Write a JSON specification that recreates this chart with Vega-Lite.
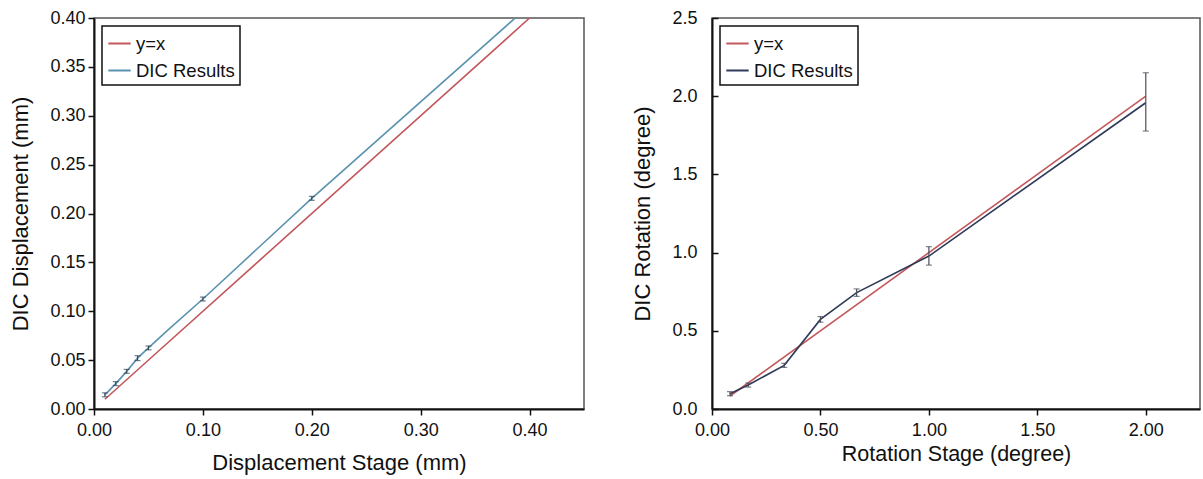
{
  "$schema": "https://vega.github.io/schema/vega-lite/v6.json",
  "background": "white",
  "padding": {"left": 9, "top": 8, "right": 2, "bottom": 2},
  "spacing": 46,
  "datasets": {
    "leftLines": [
      {"stage": 0.01, "value": 0.01, "series": "y=x"},
      {"stage": 0.067, "value": 0.067, "series": "y=x"},
      {"stage": 0.40, "value": 0.40, "series": "y=x"},
      {"stage": 0.01, "value": 0.0145, "series": "DIC Results"},
      {"stage": 0.02, "value": 0.026, "series": "DIC Results"},
      {"stage": 0.03, "value": 0.0385, "series": "DIC Results"},
      {"stage": 0.04, "value": 0.052, "series": "DIC Results"},
      {"stage": 0.05, "value": 0.0625, "series": "DIC Results"},
      {"stage": 0.067, "value": 0.08, "series": "DIC Results"},
      {"stage": 0.10, "value": 0.1125, "series": "DIC Results"},
      {"stage": 0.20, "value": 0.2155, "series": "DIC Results"},
      {"stage": 0.40, "value": 0.413, "series": "DIC Results"}
    ],
    "leftErr": [
      {"stage": 0.01, "lo": 0.0125, "hi": 0.0165},
      {"stage": 0.02, "lo": 0.024, "hi": 0.028},
      {"stage": 0.03, "lo": 0.0365, "hi": 0.0405},
      {"stage": 0.04, "lo": 0.0495, "hi": 0.0545},
      {"stage": 0.05, "lo": 0.0605, "hi": 0.0645},
      {"stage": 0.10, "lo": 0.1105, "hi": 0.1145},
      {"stage": 0.20, "lo": 0.2135, "hi": 0.2175}
    ],
    "rightLines": [
      {"stage": 0.083, "value": 0.083, "series": "y=x"},
      {"stage": 2.0, "value": 2.0, "series": "y=x"},
      {"stage": 0.083, "value": 0.098, "series": "DIC Results"},
      {"stage": 0.167, "value": 0.153, "series": "DIC Results"},
      {"stage": 0.333, "value": 0.279, "series": "DIC Results"},
      {"stage": 0.5, "value": 0.573, "series": "DIC Results"},
      {"stage": 0.667, "value": 0.744, "series": "DIC Results"},
      {"stage": 1.0, "value": 0.978, "series": "DIC Results"},
      {"stage": 2.0, "value": 1.958, "series": "DIC Results"}
    ],
    "rightErr": [
      {"stage": 0.083, "lo": 0.085, "hi": 0.111},
      {"stage": 0.167, "lo": 0.14, "hi": 0.166},
      {"stage": 0.333, "lo": 0.266, "hi": 0.292},
      {"stage": 0.5, "lo": 0.555, "hi": 0.591},
      {"stage": 0.667, "lo": 0.72, "hi": 0.768},
      {"stage": 1.0, "lo": 0.92, "hi": 1.038},
      {"stage": 2.0, "lo": 1.777, "hi": 2.15}
    ]
  },
  "hconcat": [
    {
      "width": 490,
      "height": 391,
      "layer": [
        {
          "data": {"name": "leftLines"},
          "mark": {"type": "line", "strokeWidth": 1.6, "clip": true},
          "encoding": {
            "x": {"field": "stage", "type": "quantitative",
              "scale": {"domain": [0, 0.45], "nice": false, "padding": 0},
              "axis": {"values": [0, 0.1, 0.2, 0.3, 0.4], "format": ".2f", "title": "Displacement Stage (mm)", "titleFontSize": 22, "titlePadding": 13, "labelPadding": 6}},
            "y": {"field": "value", "type": "quantitative",
              "scale": {"domain": [0, 0.40], "nice": false, "padding": 0},
              "axis": {"values": [0, 0.05, 0.1, 0.15, 0.2, 0.25, 0.3, 0.35, 0.4], "format": ".2f", "title": "DIC Displacement  (mm)", "titleFontSize": 22, "titlePadding": 17}},
            "color": {"field": "series", "type": "nominal",
              "scale": {"domain": ["y=x", "DIC Results"], "range": ["#c3585c", "#5b93ae"]},
              "legend": {"title": null}},
            "order": {"field": "stage", "type": "quantitative"}
          }
        },
        {
          "data": {"name": "leftErr"},
          "mark": {"type": "rule", "color": "#34495c", "strokeWidth": 1.2},
          "encoding": {
            "x": {"field": "stage", "type": "quantitative"},
            "y": {"field": "lo", "type": "quantitative"},
            "y2": {"field": "hi"}
          }
        },
        {
          "data": {"name": "leftErr"},
          "mark": {"type": "tick", "orient": "horizontal", "color": "#34495c", "size": 6, "thickness": 1.2},
          "encoding": {
            "x": {"field": "stage", "type": "quantitative"},
            "y": {"field": "lo", "type": "quantitative"}
          }
        },
        {
          "data": {"name": "leftErr"},
          "mark": {"type": "tick", "orient": "horizontal", "color": "#34495c", "size": 6, "thickness": 1.2},
          "encoding": {
            "x": {"field": "stage", "type": "quantitative"},
            "y": {"field": "hi", "type": "quantitative"}
          }
        }
      ]
    },
    {
      "width": 488,
      "height": 391,
      "layer": [
        {
          "data": {"name": "rightLines"},
          "mark": {"type": "line", "strokeWidth": 1.6, "clip": true},
          "encoding": {
            "x": {"field": "stage", "type": "quantitative",
              "scale": {"domain": [0, 2.25], "nice": false, "padding": 0},
              "axis": {"values": [0, 0.5, 1, 1.5, 2], "format": ".2f", "title": "Rotation Stage (degree)", "titleFontSize": 21.5, "titlePadding": 4, "labelPadding": 6}},
            "y": {"field": "value", "type": "quantitative",
              "scale": {"domain": [0, 2.5], "nice": false, "padding": 0},
              "axis": {"values": [0, 0.5, 1, 1.5, 2, 2.5], "format": ".1f", "title": "DIC Rotation  (degree)", "titleFontSize": 22, "titlePadding": 17, "tickSize": -6, "labelPadding": 21}},
            "color": {"field": "series", "type": "nominal",
              "scale": {"domain": ["y=x", "DIC Results"], "range": ["#c3585c", "#2e3a58"]},
              "legend": {"title": null}},
            "order": {"field": "stage", "type": "quantitative"}
          }
        },
        {
          "data": {"name": "rightErr"},
          "mark": {"type": "rule", "color": "#4a4f5a", "strokeWidth": 1.2},
          "encoding": {
            "x": {"field": "stage", "type": "quantitative"},
            "y": {"field": "lo", "type": "quantitative"},
            "y2": {"field": "hi"}
          }
        },
        {
          "data": {"name": "rightErr"},
          "mark": {"type": "tick", "orient": "horizontal", "color": "#4a4f5a", "size": 6, "thickness": 1.2},
          "encoding": {
            "x": {"field": "stage", "type": "quantitative"},
            "y": {"field": "lo", "type": "quantitative"}
          }
        },
        {
          "data": {"name": "rightErr"},
          "mark": {"type": "tick", "orient": "horizontal", "color": "#4a4f5a", "size": 6, "thickness": 1.2},
          "encoding": {
            "x": {"field": "stage", "type": "quantitative"},
            "y": {"field": "hi", "type": "quantitative"}
          }
        }
      ]
    }
  ],
  "resolve": {"scale": {"color": "independent", "x": "independent", "y": "independent"}, "legend": {"color": "independent"}},
  "config": {
    "font": "Liberation Sans",
    "view": {"stroke": "#555", "strokeWidth": 1.5},
    "axis": {
      "grid": false,
      "labelFlush": false,
      "labelOverlap": false,
      "domainColor": "#111",
      "domainWidth": 2,
      "tickColor": "#111",
      "tickWidth": 1.5,
      "tickSize": 6,
      "labelFontSize": 18,
      "labelColor": "#111",
      "labelFont": "Liberation Sans",
      "titleFont": "Liberation Sans",
      "titleColor": "#111",
      "titleFontWeight": "normal",
      "labelPadding": 3
    },
    "legend": {
      "orient": "top-left",
      "offset": 8,
      "strokeColor": "#111",
      "strokeWidth": 1.5,
      "fillColor": "white",
      "padding": 5,
      "symbolType": "stroke",
      "symbolSize": 500,
      "symbolStrokeWidth": 2,
      "labelFontSize": 18.5,
      "labelFont": "Liberation Sans",
      "labelColor": "#111",
      "labelOffset": 4,
      "rowPadding": 5,
      "labelLimit": 300
    }
  }
}
